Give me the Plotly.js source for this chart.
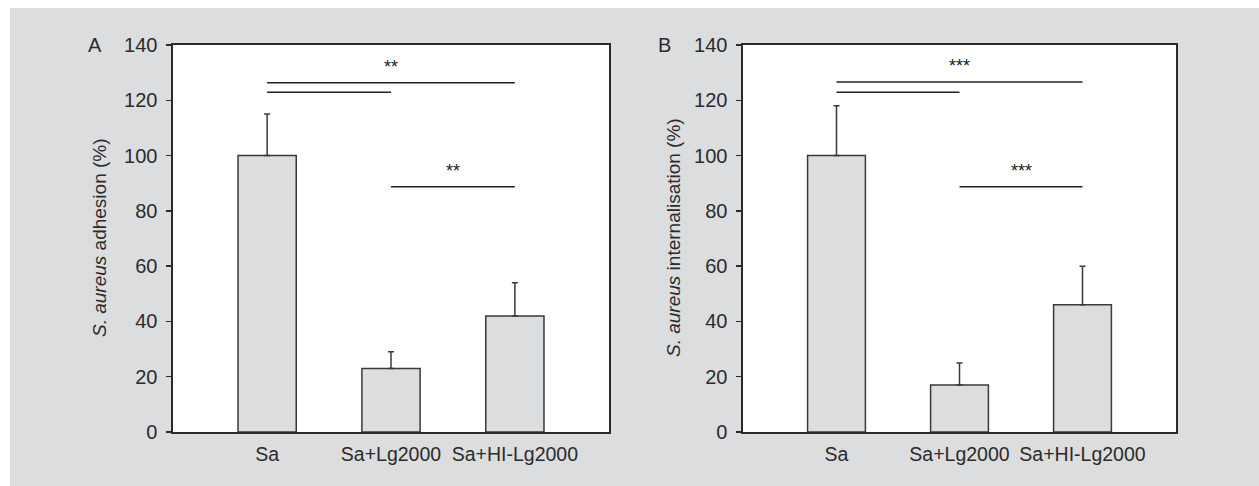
<!DOCTYPE html>
<html>
<head>
<meta charset="utf-8">
<script src="https://cdn.plot.ly/plotly-3.0.1.min.js"></script>
<style>
  html, body { margin: 0; padding: 0; background: #ffffff; }
  #chart { position: absolute; left: 10px; top: 8px; width: 1249px; height: 478px; }
</style>
</head>
<body>
<div id="chart"></div>
<script>
// ---- data ----
const categories = ['Sa', 'Sa+Lg2000', 'Sa+HI-Lg2000'];
const adhesionValues = [100, 23, 42];
const adhesionErrors = [15, 6, 12];
const internalValues = [100, 17, 46];
const internalErrors = [18, 8, 14];
const yTicks = [0, 20, 40, 60, 80, 100, 120, 140];

// significance comparisons (category index from/to, level on y scale, label)
const sigFromA = [0, 0, 1];
const sigToA = [2, 1, 2];
const sigLevelA = [126.3, 122.9, 88.7];
const sigLabelA = ['**', '', '**'];
const sigFromB = [0, 0, 1];
const sigToB = [2, 1, 2];
const sigLevelB = [126.6, 122.9, 88.7];
const sigLabelB = ['***', '', '***'];

const panelLetters = ['A', 'B'];
const yTitles = ['<i>S. aureus</i> adhesion (%)', '<i>S. aureus</i> internalisation (%)'];

// ---- styling ----
const W = 1249, H = 478, OX = 10, OY = 8;
const px = x => (x - OX) / W;
const py = y => 1 - (y - OY) / H;
const BG = '#dcdddf';
const INK = '#2b2b2b';
const FONT = '"Liberation Sans", Arial, sans-serif';

function barTrace(vals, errs, xa, ya) {
  return {
    type: 'bar', x: categories, y: vals, xaxis: xa, yaxis: ya,
    width: 0.47,
    marker: { color: BG, line: { color: '#3a3a3a', width: 1.5 } },
    error_y: { type: 'data', symmetric: false, array: errs,
               arrayminus: errs.map(() => 0), color: '#3a3a3a', thickness: 1.5, width: 3 },
    hoverinfo: 'skip', showlegend: false
  };
}

function sigTraces(from, to, level, xa, ya) {
  return from.map((f, i) => ({
    type: 'scatter', mode: 'lines', xaxis: xa, yaxis: ya,
    x: [categories[f], categories[to[i]]], y: [level[i], level[i]],
    line: { color: '#222', width: 1.5 }, hoverinfo: 'skip', showlegend: false
  }));
}

function sigLabels(from, to, level, labels, xa, ya) {
  const out = [];
  labels.forEach((lab, i) => {
    if (!lab) return;
    out.push({
      xref: xa, yref: ya, x: (from[i] + to[i]) / 2, y: level[i],
      xanchor: 'center', yanchor: 'middle',
      yshift: 16, text: lab, showarrow: false,
      font: { family: FONT, size: 18, color: '#222' }
    });
  });
  return out;
}

const data = [
  barTrace(adhesionValues, adhesionErrors, 'x', 'y'),
  ...sigTraces(sigFromA, sigToA, sigLevelA, 'x', 'y'),
  barTrace(internalValues, internalErrors, 'x2', 'y2'),
  ...sigTraces(sigFromB, sigToB, sigLevelB, 'x2', 'y2')
];

const yDomain = [py(432), py(45)];

function xAxis(domain, anchor) {
  return {
    domain: domain, anchor: anchor, type: 'category', range: [-0.76, 2.76],
    showline: true, mirror: true, linecolor: INK, linewidth: 1.6,
    ticks: 'outside', ticklen: 4, tickcolor: 'rgba(0,0,0,0)', tickangle: 0,
    showgrid: false, zeroline: false, fixedrange: true,
    tickfont: { family: FONT, size: 19.5, color: INK }
  };
}
function yAxis(anchor) {
  return {
    domain: yDomain, anchor: anchor, range: [0, 140],
    tickvals: yTicks, ticktext: yTicks.map(String),
    showline: true, mirror: true, linecolor: INK, linewidth: 1.6,
    ticks: 'outside', ticklen: 5, tickwidth: 1.5, tickcolor: INK,
    ticklabelstandoff: 5,
    showgrid: false, zeroline: false, fixedrange: true,
    tickfont: { family: FONT, size: 20, color: INK }
  };
}

const annotations = [
  { xref: 'paper', yref: 'paper', x: px(95), y: py(45), xanchor: 'center', yanchor: 'middle',
    text: panelLetters[0], showarrow: false, font: { family: FONT, size: 20, color: INK } },
  { xref: 'paper', yref: 'paper', x: px(664), y: py(45), xanchor: 'center', yanchor: 'middle',
    text: panelLetters[1], showarrow: false, font: { family: FONT, size: 20, color: INK } },
  { xref: 'paper', yref: 'paper', x: px(99), y: py(238), xanchor: 'center', yanchor: 'middle',
    text: yTitles[0], textangle: -90, showarrow: false, font: { family: FONT, size: 19, color: INK } },
  { xref: 'paper', yref: 'paper', x: px(673), y: py(238), xanchor: 'center', yanchor: 'middle',
    text: yTitles[1], textangle: -90, showarrow: false, font: { family: FONT, size: 19, color: INK } },
  ...sigLabels(sigFromA, sigToA, sigLevelA, sigLabelA, 'x', 'y'),
  ...sigLabels(sigFromB, sigToB, sigLevelB, sigLabelB, 'x2', 'y2')
];

const layout = {
  width: W, height: H,
  margin: { l: 0, r: 0, t: 0, b: 0 },
  paper_bgcolor: BG, plot_bgcolor: '#ffffff',
  barmode: 'group',
  xaxis: xAxis([px(173), px(609)], 'y'),
  yaxis: yAxis('x'),
  xaxis2: xAxis([px(743), px(1176)], 'y2'),
  yaxis2: yAxis('x2'),
  annotations: annotations,
  showlegend: false
};

Plotly.newPlot('chart', data, layout, { displayModeBar: false, staticPlot: true });
</script>
</body>
</html>
